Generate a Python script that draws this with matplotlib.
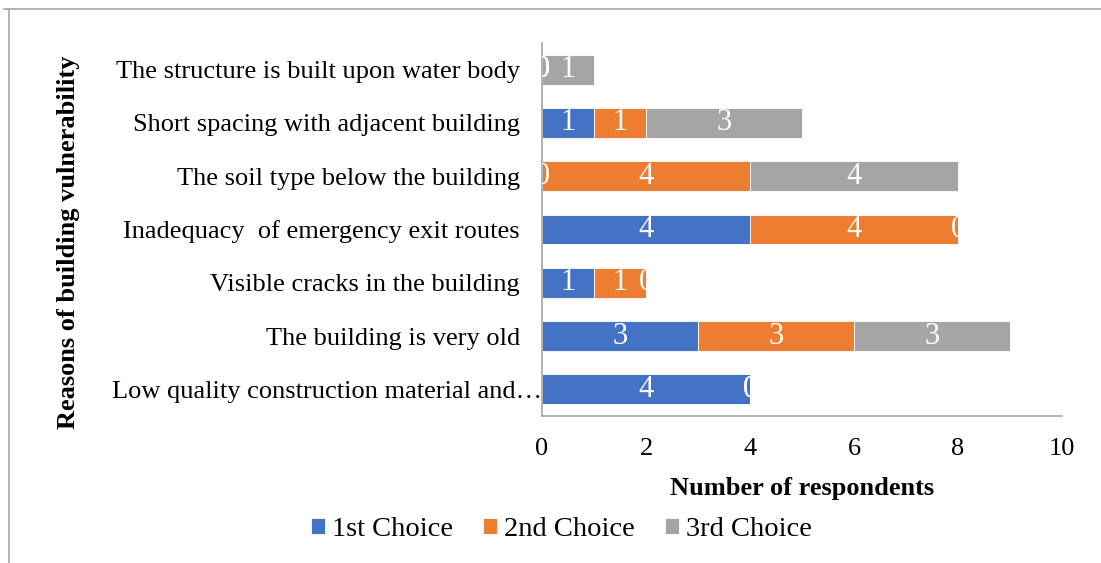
import matplotlib.pyplot as plt
import numpy as np
from matplotlib.lines import Line2D
from matplotlib.transforms import Bbox, TransformedBbox, ScaledTranslation

# top to bottom as shown
categories = [
    'The structure is built upon water body',
    'Short spacing with adjacent building',
    'The soil type below the building',
    'Inadequacy  of emergency exit routes',
    'Visible cracks in the building',
    'The building is very old',
    'Low quality construction material and\u2026',
]
first_choice = [0, 1, 0, 4, 1, 3, 4]
second_choice = [0, 1, 4, 4, 1, 3, 0]
third_choice = [1, 3, 4, 0, 0, 3, 0]
series_names = ['1st Choice', '2nd Choice', '3rd Choice']
x_ticks = [0, 2, 4, 6, 8, 10]

COLORS = ['#4472C4', '#ED7D31', '#A5A5A5']
SPINE = '#A6A6A6'

plt.rcParams['font.family'] = 'Liberation Serif'
plt.rcParams['font.size'] = 19

fig = plt.figure(figsize=(11.01, 5.63), dpi=100)
ax = fig.add_axes([0.4923, 0.2611, 0.4723, 0.6625])

y = np.arange(len(categories))
series = [first_choice, second_choice, third_choice]
totals = np.sum(series, axis=0)
bar_h = 0.56
left = np.zeros(len(categories))

for vals, col, name in zip(series, COLORS, series_names):
    vals = np.array(vals, dtype=float)
    ax.barh(y, vals, bar_h, left=left, color=col, label=name,
            edgecolor='white', linewidth=0.6)
    for i, v in enumerate(vals):
        t = ax.text(left[i] + v / 2, y[i], f'{int(v)}', ha='center', va='center',
                    color='white', fontsize=22)
        # Excel draws zero labels half clipped by the bar extent
        box = TransformedBbox(Bbox([[0, y[i] - 0.5], [totals[i], y[i] + 0.5]]),
                              ax.transData)
        t.set_clip_box(box)
        t.set_clip_on(True)
    left += vals

ax.set_xlim(0, 10)
ax.set_ylim(len(categories) - 0.5, -0.5)
ax.set_xticks(x_ticks)
ax.set_yticks(y)
ax.set_yticklabels(categories)
ax.tick_params(axis='x', length=0, pad=16)
ax.tick_params(axis='y', length=0, pad=16)

# truncated label runs up to the axis in the original
last = ax.get_yticklabels()[-1]
last.set_transform(last.get_transform() + ScaledTranslation(0.22, 0, fig.dpi_scale_trans))

ax.spines['top'].set_visible(False)
ax.spines['right'].set_visible(False)
ax.spines['left'].set_color(SPINE)
ax.spines['bottom'].set_color(SPINE)
ax.spines['left'].set_linewidth(1.2)
ax.spines['bottom'].set_linewidth(1.2)

ax.set_xlabel('Number of respondents', fontweight='bold', labelpad=12)
fig.text(0.0618, 0.570, 'Reasons of building vulnerability', rotation=90,
         fontweight='bold', ha='center', va='center', fontsize=19)

fig.legend(loc='center', bbox_to_anchor=(0.510, 0.059), ncol=3, frameon=False,
           handlelength=0.5, handleheight=0.5, handletextpad=0.25,
           columnspacing=1.05, fontsize=20.5)

# outer chart frame (top and left edges visible)
fig.add_artist(Line2D([4 / 1101, 1], [1 - 9 / 563, 1 - 9 / 563],
                      transform=fig.transFigure, color=SPINE, linewidth=1.2))
fig.add_artist(Line2D([9 / 1101, 9 / 1101], [0, 1 - 9 / 563],
                      transform=fig.transFigure, color=SPINE, linewidth=1.2))

fig.savefig('out.png', dpi=100)
